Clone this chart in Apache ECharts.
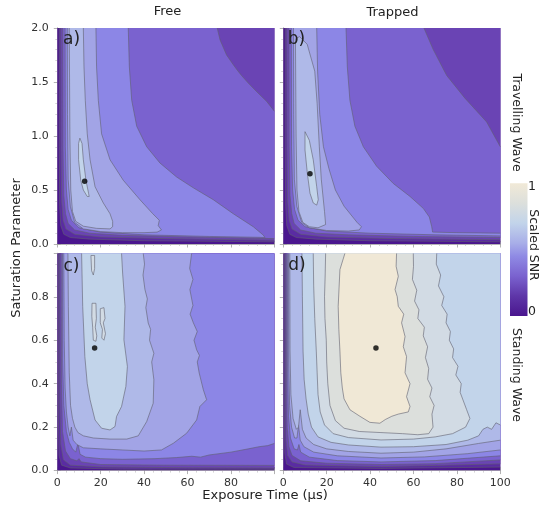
<!DOCTYPE html>
<html><head><meta charset="utf-8">
<script src="https://cdn.jsdelivr.net/npm/echarts@6/dist/echarts.min.js"></script>
<style>html,body{margin:0;padding:0;background:#fff}#c{width:539px;height:508px}</style>
</head><body><div id="c"></div><script>
// ---------- data ----------
const xTicks = [0,20,40,60,80,100];
const yTicksTop = [0,0.5,1,1.5,2];
const yTicksBottom = [0,0.2,0.4,0.6,0.8,1];
const columnTitles = ['Free','Trapped'];
const rowTitles = ['Travelling Wave','Standing Wave'];
const panelLabels = ['a)','b)','c)','d)'];
// contour level of each band boundary (band k lies above contourLevels[k-1])
const contourLevels = [0.09,0.18,0.27,0.36,0.45,0.54,0.63,0.72,0.81,0.9];
// optimum (maximum SNR) points
const optA = [[12.6,0.58]];
const optB = [[12.3,0.65]];
const optC = [[17.2,0.564]];
const optD = [[42.7,0.564]];
// contour regions: [band index, boundary points (x µs, y sat.)]
const contoursA = [
 [0,[[0,0],[100,0],[100,2],[0,2]]],
 [1,[[0.9,2],[0.9,0.9],[1.1,0.35],[1.6,0.17],[3,0.09],[6,0.06],[15,0.045],[40,0.03],[100,0.02],[100,2]]],
 [2,[[1.6,2],[1.7,0.9],[2.0,0.4],[2.7,0.22],[4,0.14],[8,0.09],[20,0.065],[50,0.05],[100,0.035],[100,2]]],
 [3,[[2.5,2],[2.6,0.9],[3.0,0.45],[3.8,0.28],[5,0.19],[8,0.13],[15,0.1],[30,0.08],[60,0.065],[100,0.05],[100,1.23],[96.5,1.32],[91.9,1.41],[88,1.49],[84.9,1.56],[82.9,1.61],[81.1,1.66],[78,1.75],[75,1.89],[73.7,2]]],
 [4,[[3.6,2],[3.7,0.9],[4.2,0.5],[5,0.32],[6.5,0.22],[10,0.15],[20,0.11],[40,0.085],[70,0.07],[93,0.062],[95.7,0.06],[94.9,0.083],[90.3,0.16],[81.1,0.28],[71.9,0.41],[62.7,0.52],[55,0.62],[47.3,0.75],[41.2,0.9],[36.6,1.09],[34.3,1.33],[33.2,1.64],[32.7,2]]],
 [5,[[4.6,2],[4.7,1.2],[5,0.6],[6,0.35],[8,0.2],[12,0.14],[20,0.115],[30,0.105],[40,0.105],[46,0.11],[48,0.13],[46.5,0.17],[47,0.22],[44,0.28],[38.1,0.41],[30.4,0.59],[24.3,0.78],[20.4,1.02],[18.9,1.33],[18.1,1.64],[17.8,2]]],
 [6,[[5.5,2],[5.8,1],[6.2,0.5],[7,0.3],[8.5,0.21],[12,0.165],[18,0.145],[24.3,0.14],[25.5,0.16],[25.5,0.21],[24.3,0.28],[21.2,0.38],[17.4,0.53],[15.1,0.78],[13.8,1.02],[12.9,1.33],[12.3,1.64],[12,2]]],
 [7,[[10.4,0.98],[11.4,0.93],[12.0,0.78],[13.2,0.59],[14.4,0.47],[14.7,0.44],[13.8,0.44],[12.0,0.5],[10.8,0.59],[9.8,0.78],[9.8,0.93]]]
];
const contoursB = [
 [0,[[0,0],[100,0],[100,2],[0,2]]],
 [1,[[0.9,2],[0.9,0.9],[1.1,0.35],[1.6,0.17],[3,0.09],[6,0.06],[15,0.045],[40,0.03],[100,0.02],[100,2]]],
 [2,[[1.6,2],[1.7,0.9],[2.0,0.4],[2.7,0.22],[4,0.14],[8,0.09],[20,0.065],[50,0.05],[100,0.04],[100,2]]],
 [3,[[2.6,2],[2.7,0.9],[3.1,0.45],[3.9,0.28],[5,0.19],[8,0.13],[15,0.1],[30,0.085],[60,0.07],[100,0.06],[100,0.9],[93.7,1.13],[83.7,1.35],[75.3,1.56],[69.1,1.8],[64.8,2]]],
 [4,[[3.7,2],[3.8,0.9],[4.3,0.5],[5.2,0.32],[6.8,0.22],[10,0.16],[20,0.12],[40,0.1],[70,0.085],[100,0.075],[100,0.1],[80,0.105],[68.8,0.11],[68.4,0.16],[67.3,0.25],[64.5,0.33],[58.4,0.44],[50.7,0.56],[43,0.72],[36.9,0.9],[33,1.09],[30.7,1.33],[29.5,1.64],[28.9,2]]],
 [5,[[4.7,2],[4.8,1.2],[5.1,0.6],[6.2,0.35],[8.5,0.2],[12,0.15],[20,0.125],[30,0.12],[35,0.13],[36,0.16],[34,0.2],[32,0.25],[28,0.35],[24,0.5],[21,0.7],[18.5,0.9],[16.8,1.2],[15.8,1.6],[15.4,2]]],
 [6,[[5.6,1.9],[5.9,1],[6.3,0.5],[7.2,0.3],[9,0.2],[12,0.16],[16,0.15],[19.5,0.18],[19,0.3],[17.5,0.6],[16.6,0.9],[15.6,1.3],[14.5,1.6],[11,1.85],[7.5,1.92]]],
 [7,[[10.0,1.04],[12.0,0.96],[13.8,0.78],[15.4,0.53],[16.1,0.41],[15.4,0.36],[13.8,0.38],[12.3,0.47],[11.1,0.65],[10.0,0.87]]]
];
const contoursC = [
 [0,[[0,0],[100,0],[100,1],[0,1]]],
 [1,[[0.5,1],[0.5,0.25],[0.8,0.07],[2,0.025],[6,0.012],[30,0.007],[100,0.006],[100,1]]],
 [2,[[1.1,1],[1.2,0.3],[1.6,0.12],[2.8,0.05],[6,0.025],[20,0.017],[60,0.013],[100,0.012],[100,1]]],
 [3,[[1.8,1],[1.9,0.4],[2.4,0.18],[3.8,0.09],[6,0.055],[9,0.045],[10,0.055],[11,0.04],[20,0.028],[50,0.025],[100,0.024],[100,1]]],
 [4,[[2.4,1],[2.5,0.5],[3,0.3],[4.2,0.18],[5.5,0.13],[7,0.1],[8.5,0.085],[9.5,0.125],[10.5,0.075],[13,0.062],[20,0.055],[30,0.052],[45,0.055],[55,0.06],[62,0.066],[66,0.062],[70,0.072],[80,0.085],[88,0.1],[93,0.11],[97,0.115],[100,0.125],[100,1]]],
 [5,[[3,1],[3.2,0.6],[3.6,0.38],[4.2,0.27],[5,0.2],[5.8,0.16],[6.5,0.2],[7.3,0.14],[9,0.12],[12,0.105],[20,0.1],[30,0.095],[40,0.09],[48,0.095],[53.5,0.126],[59.6,0.172],[64.2,0.233],[65.7,0.295],[68.8,0.326],[67.3,0.372],[65.4,0.449],[64.5,0.5],[65.5,0.53],[64.2,0.556],[63,0.6],[64.5,0.64],[62.7,0.68],[61.2,0.72],[62.5,0.76],[61.1,0.833],[62.5,0.88],[61,0.93],[61.9,1]]],
 [6,[[4.9,1],[5.1,0.756],[5.5,0.45],[6.1,0.3],[7,0.24],[8.1,0.2],[9.5,0.175],[12,0.16],[16.6,0.15],[24.3,0.145],[32,0.145],[37.3,0.16],[41.2,0.226],[44.2,0.31],[44.5,0.418],[43.5,0.5],[44.5,0.54],[42.5,0.6],[43,0.65],[41.9,0.679],[40.8,0.75],[41.5,0.79],[40.4,0.833],[39.5,0.9],[40.2,0.95],[39.6,1]]],
 [7,[[11.2,1],[11.7,0.756],[12.7,0.525],[13.8,0.4],[15.1,0.326],[17.4,0.233],[20.4,0.195],[24.3,0.187],[26.6,0.203],[27.3,0.249],[29.6,0.295],[31.6,0.387],[32.3,0.479],[30.7,0.602],[31.2,0.756],[30.1,0.909],[29.6,1]]],
 [8,[[15.5,0.99],[17.2,0.99],[17.2,0.93],[16.6,0.9],[15.8,0.92]]],
 [8,[[16.0,0.77],[17.8,0.77],[18.0,0.7],[17.5,0.66],[18.2,0.62],[17.8,0.595],[16.6,0.6],[16.3,0.66],[15.9,0.71]]],
 [8,[[19.8,0.745],[21.5,0.75],[22.0,0.7],[21.2,0.68],[22.2,0.63],[21.5,0.6],[20.5,0.61],[20.8,0.65],[19.8,0.68]]]
];
const contoursD = [
 [0,[[0,0],[100,0],[100,1],[0,1]]],
 [1,[[0.45,1],[0.45,0.3],[0.7,0.08],[1.5,0.03],[5,0.014],[45,0.01],[100,0.016],[100,1]]],
 [2,[[0.9,1],[1.0,0.35],[1.25,0.14],[2,0.07],[4,0.04],[10,0.026],[45,0.018],[100,0.031],[100,1]]],
 [3,[[1.4,1],[1.5,0.4],[1.8,0.2],[2.6,0.11],[4,0.07],[8,0.045],[20,0.034],[45,0.028],[70,0.032],[100,0.049],[100,1]]],
 [4,[[1.9,1],[2.0,0.45],[2.4,0.25],[3.3,0.15],[5,0.1],[6.5,0.095],[7.2,0.12],[8,0.085],[12,0.062],[25,0.046],[45,0.04],[70,0.046],[100,0.068],[100,1]]],
 [5,[[2.4,1],[2.5,0.5],[2.9,0.3],[3.8,0.2],[5.2,0.15],[6.3,0.15],[7,0.21],[7.8,0.14],[9.5,0.11],[14,0.085],[25,0.068],[45,0.058],[65,0.063],[85,0.078],[100,0.095],[100,1]]],
 [6,[[3.0,1],[3.1,0.55],[3.5,0.35],[4.5,0.24],[6,0.19],[7,0.2],[7.8,0.28],[8.8,0.19],[10.5,0.15],[14,0.12],[20,0.1],[30,0.088],[45,0.08],[60,0.085],[75,0.1],[90,0.125],[100,0.14],[100,1]]],
 [7,[[8.6,1],[8.8,0.8],[9.1,0.55],[9.6,0.42],[10.5,0.33],[11.5,0.26],[13,0.2],[16,0.155],[22,0.13],[30,0.118],[45,0.108],[60,0.11],[75,0.12],[85,0.14],[90,0.16],[92,0.19],[94,0.2],[96,0.19],[98,0.22],[100,0.21],[100,1]]],
 [8,[[13.8,1],[14,0.85],[14.5,0.7],[15.2,0.55],[15.6,0.45],[16,0.35],[17,0.27],[19,0.21],[23,0.17],[30,0.152],[45,0.141],[60,0.145],[70,0.155],[78,0.17],[84,0.2],[86,0.24],[84.5,0.28],[83,0.32],[81.5,0.36],[82,0.4],[79.5,0.44],[80.5,0.48],[78,0.52],[78.5,0.56],[76.5,0.6],[77,0.64],[75,0.68],[75.5,0.72],[73,0.76],[74,0.8],[71.5,0.85],[72.5,0.9],[70.5,0.95],[70.7,1]]],
 [9,[[19.5,1],[19.3,0.9],[19,0.8],[19.2,0.7],[19.8,0.6],[20,0.5],[20.5,0.4],[21.5,0.3],[24,0.23],[28,0.195],[35,0.18],[45,0.175],[55,0.17],[62,0.165],[67,0.17],[69,0.2],[68.5,0.26],[69.5,0.3],[67.5,0.34],[68.5,0.38],[66.5,0.42],[67,0.47],[65.5,0.52],[66.5,0.57],[64.5,0.62],[65,0.66],[62,0.7],[62.5,0.74],[60.5,0.78],[61.5,0.83],[59.5,0.88],[60,0.94],[59.9,1]]],
 [10,[[28.4,1],[26.1,0.925],[25.3,0.756],[25.6,0.65],[26.1,0.55],[26.5,0.45],[27.2,0.38],[28,0.33],[30.7,0.28],[35.3,0.25],[39.9,0.222],[44.5,0.218],[47,0.235],[50,0.25],[53,0.26],[57.6,0.27],[58.4,0.295],[56.8,0.34],[58.4,0.4],[56.1,0.45],[56.8,0.525],[55.3,0.57],[56.1,0.617],[54.5,0.68],[55.5,0.72],[53,0.756],[52.5,0.8],[51.5,0.833],[53,0.894],[52,0.94],[52.2,1]]]
];

// ---------- style ----------
const palette = ['#4a168e','#5a2ca2','#6a44b4','#7a62cf','#8c86e6','#a2a4e6','#afb9e8','#c2d4ea','#d2dbe4','#dcdfdc','#f0e8d6'];
const lineColor = 'rgba(95,95,110,0.75)';
const FONT = 'DejaVu Sans';
const grids = [
  {left:57.3, top:28, width:217, height:216},
  {left:283.3, top:28, width:217, height:216},
  {left:57.3, top:253.3, width:217, height:217.3},
  {left:283.3, top:253.3, width:217, height:217.3}
];
const yMax = [2,2,1,1];
const allContours = [contoursA, contoursB, contoursC, contoursD];
const allOpt = [optA, optB, optC, optD];

function makeRender(contours, ymax){
  return function(params, api){
    const c = contours[params.dataIndex];
    const band = c[0], pts = c[1];
    const px = pts.map(p => api.coord(p));
    const children = [{type:'polygon', shape:{points:px}, style:{fill:palette[band], stroke:null}, silent:true}];
    if (band > 0){
      const n = pts.length; let run = []; const runs = [];
      for (let i=0;i<n;i++){
        const a = pts[i], b = pts[(i+1)%n];
        const onEdge = (a[0]===b[0] && (a[0]===0||a[0]===100)) || (a[1]===b[1] && (a[1]===0||a[1]===ymax));
        if (onEdge){ if (run.length){ runs.push(run); run=[]; } }
        else { if (!run.length) run.push(px[i]); run.push(px[(i+1)%n]); }
      }
      if (run.length) runs.push(run);
      runs.forEach(r => children.push({type:'polyline', shape:{points:r}, style:{stroke:lineColor, lineWidth:0.8, fill:null}, silent:true}));
    }
    return {type:'group', children};
  };
}

const xAxis = [], yAxis = [], series = [];
const tickStyle = {show:true, inside:true, length:3.5, lineStyle:{color:'#a0a0a0', width:0.8}};
const minorStyle = n => ({show:true, splitNumber:n, length:2, lineStyle:{color:'#b8b8b8', width:0.6}});
const lineStyle = {show:true, lineStyle:{color:'#b4b4b4', width:1}};
for (let g=0; g<4; g++){
  const bottomRow = g>=2, leftCol = (g%2===0);
  ['bottom','top'].forEach(pos => {
    xAxis.push({gridIndex:g, type:'value', position:pos, min:xTicks[0], max:xTicks[xTicks.length-1], interval:20, offset:3.5,
      axisLine:lineStyle, axisTick:tickStyle, minorTick:minorStyle(5), splitLine:{show:false},
      axisLabel:{show: pos==='bottom' && bottomRow, margin:4, color:'#333', fontSize:11, fontFamily:FONT,
        formatter: v => (g===2 && v===100) ? '' : String(v)}});
  });
  ['left','right'].forEach(pos => {
    yAxis.push({gridIndex:g, type:'value', position:pos, min:0, max:yMax[g], interval: bottomRow?0.2:0.5, offset:3.5,
      axisLine:lineStyle, axisTick:tickStyle, minorTick:minorStyle(bottomRow?4:5), splitLine:{show:false},
      axisLabel:{show: pos==='left' && leftCol, margin:5, color:'#333', fontSize:11, fontFamily:FONT,
        formatter: v => (bottomRow && v>0.99) ? '' : v.toFixed(1)}});
  });
  const cs = allContours[g];
  series.push({type:'custom', coordinateSystem:'cartesian2d', xAxisIndex:2*g, yAxisIndex:2*g, clip:true,
    renderItem: makeRender(cs, yMax[g]), data: cs.map((c,i)=>[c[1][0][0], c[1][0][1], i]), z:1, silent:true});
  series.push({type:'scatter', xAxisIndex:2*g, yAxisIndex:2*g, data: allOpt[g], symbolSize:5.5,
    itemStyle:{color:'#000'}, z:5, silent:true});
}

const txt = (x,y,text,size,rot,extra) => Object.assign({type:'text', x, y, rotation:rot||0, silent:true,
  style:{text, fontSize:size, fontFamily:FONT, fill:'#222', textAlign:'center', textVerticalAlign:'middle'}, z:10}, extra||{});
const graphic = [
  txt(167.5,12,columnTitles[0],13), txt(392.5,12.5,columnTitles[1],13),
  txt(17,248,'Saturation Parameter',13,Math.PI/2),
  txt(265,496,'Exposure Time (µs)',13),
  txt(516,122.5,rowTitles[0],12.5,-Math.PI/2),
  txt(516,375,rowTitles[1],12.5,-Math.PI/2),
  txt(533,245,'Scaled SNR',12.5,-Math.PI/2),
  txt(532,186.5,'1',12.5), txt(532,311.5,'0',12.5),
  txt(71.5,40,panelLabels[0],17), txt(296.5,39.5,panelLabels[1],17),
  txt(71.5,266.5,panelLabels[2],17), txt(297,266,panelLabels[3],17),
  {type:'rect', shape:{x:510, y:183.3, width:17.5, height:132.7}, silent:true, z:10,
   style:{fill:new echarts.graphic.LinearGradient(0,0,0,1,[
     {offset:0,color:'#f1e9d7'},{offset:0.15,color:'#dcdfdc'},{offset:0.3,color:'#c2d4ea'},
     {offset:0.45,color:'#a8aee8'},{offset:0.55,color:'#8f8ae4'},{offset:0.7,color:'#7a62cf'},
     {offset:0.85,color:'#5e36a8'},{offset:1,color:'#4a168e'}])}}
];

const chart = echarts.init(document.getElementById('c'));
chart.setOption({animation:false, backgroundColor:'#fff', grid:grids, xAxis, yAxis, series, graphic});
</script></body></html>
